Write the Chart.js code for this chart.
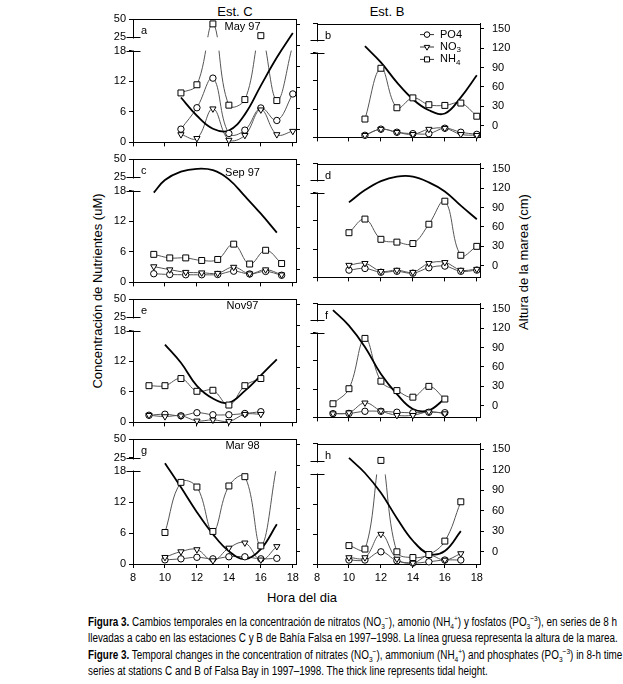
<!DOCTYPE html>
<html>
<head>
<meta charset="utf-8">
<script src="https://cdn.jsdelivr.net/npm/chart.js@4.4.1/dist/chart.umd.min.js"></script>
<style>
  body { margin: 0; background: #fff; width: 623px; height: 684px; position: relative; overflow: hidden;
         font-family: "Liberation Sans", Arial, sans-serif; color: #000; }
  .panel { position: absolute; }
  .txt { position: absolute; white-space: nowrap; transform: translate(-50%, -50%); font-size: 13px; }
  .rot { transform: translate(-50%, -50%) rotate(-90deg); }
  .cap { position: absolute; left: 88px; white-space: nowrap; font: 12px "Liberation Sans Narrow", "Liberation Sans", Arial, sans-serif;
         transform-origin: 0 50%; line-height: 16px; }
  .cap sub, .cap sup { font-size: 8px; line-height: 0; }
</style>
</head>
<body>
<div class="txt" style="left:235px;top:11px">Est. C</div>
<div class="txt" style="left:387px;top:11px">Est. B</div>
<div class="txt rot" style="left:97px;top:291px">Concentración de Nutrientes (uM)</div>
<div class="txt rot" style="left:523px;top:262px">Altura de la marea (cm)</div>
<div class="txt" style="left:302px;top:597px">Hora del dia</div>

<div class="cap" style="top:614px"><b>Figura 3.</b> Cambios temporales en la concentración de nitratos (NO<sub>3</sub><sup>−</sup>), amonio (NH<sub>4</sub><sup>+</sup>) y fosfatos (PO<sub>3</sub><sup>−3</sup>), en series de 8 h</div>
<div class="cap" style="top:630px">llevadas a cabo en las estaciones C y B de Bahía Falsa en 1997–1998. La línea gruesa representa la altura de la marea.</div>
<div class="cap" style="top:647px"><b>Figure 3.</b> Temporal changes in the concentration of nitrates (NO<sub>3</sub><sup>−</sup>), ammonium (NH<sub>4</sub><sup>+</sup>) and phosphates (PO<sub>3</sub><sup>−3</sup>) in 8-h time</div>
<div class="cap" style="top:663px">series at stations C and B of Falsa Bay in 1997–1998. The thick line represents tidal height.</div>

<script>
// ejes
const X_TICKS = [8, 10, 12, 14, 16, 18];
const LEFT_TICKS = [0, 6, 12, 18, 25, 50];
const TIDE_TICKS = [0, 30, 60, 90, 120, 150];

// May 97 - Est. C
const hoursA = [11, 12, 13, 14, 15, 16, 17, 18];
const po4A = [2.6, 6.8, 12.6, 1.75, 2.4, 6.75, 4.3, 9.5];
const no3A = [1.55, 0.8, 6.6, 0.45, 1.4, 6.4, 1.55, 2.2];
const nh4A = [9.7, 11.3, 43.3, 7.3, 8.4, 27.2, 8.2, 21];
const tideHoursA = [11, 12, 13, 14, 15, 16, 17, 18];
const tideA = [46, 20, 1.5, -1, 22, 63, 103, 138];

// May 97 - Est. B
const hoursB = [11, 12, 13, 14, 15, 16, 17, 18];
const po4B = [0.45, 1.75, 1.1, 0.8, 0.8, 1.95, 1.1, 0.65];
const no3B = [0.45, 1.75, 1.1, 0.65, 1.75, 1.95, 0.65, 0.45];
const nh4B = [3.9, 14.7, 6.3, 8.4, 6.95, 6.8, 7.3, 4.5];
const tideHoursB = [11, 12, 13, 14, 15, 16, 17, 18];
const tideB = [123, 98, 67, 41, 24, 19, 44, 78];

// Sep 97 - Est. C
const hoursC = [9.3, 10.3, 11.3, 12.3, 13.3, 14.3, 15.3, 16.3, 17.3];
const po4C = [1.7, 1.55, 1.5, 1.5, 1.55, 2.2, 1.65, 2.15, 1.4];
const no3C = [3.1, 2.5, 2.0, 1.9, 1.8, 3.0, 1.7, 2.5, 1.5];
const nh4C = [5.5, 4.8, 4.8, 4.3, 4.5, 7.5, 3.6, 6.3, 3.7];
const tideHoursC = [9.3, 10, 11, 12, 13, 14, 15, 16, 17];
const tideC = [110, 128, 140, 144, 142, 129, 105, 80, 53];

// Sep 97 - Est. B
const hoursD = [10, 11, 12, 13, 14, 15, 16, 17, 18];
const po4D = [1.55, 1.9, 1.1, 1.3, 0.9, 2.05, 2.4, 1.3, 1.55];
const no3D = [2.6, 3.0, 1.3, 1.55, 1.1, 3.0, 3.2, 1.55, 1.75];
const nh4D = [9.5, 12.4, 8.1, 7.5, 7.2, 11.3, 16.2, 4.7, 6.6];
const tideHoursD = [10, 11, 12, 13, 14, 15, 16, 17, 18];
const tideD = [98, 117, 131, 138, 138, 129, 115, 93, 72];

// Nov97 - Est. C
const hoursE = [9, 10, 11, 12, 13, 14, 15, 16];
const po4E = [1.4, 1.6, 1.3, 1.9, 1.5, 1.5, 1.75, 2.1];
const no3E = [1.4, 1.15, 1.3, 0.3, 0.5, 0.2, 1.6, 1.6];
const nh4E = [7.2, 7.2, 8.6, 6.1, 6.3, 3.4, 7.2, 8.6];
const tideHoursE = [10, 11, 12, 13, 14, 15, 16, 17];
const tideE = [93, 67, 34, 16, 10, 27, 49, 72];

// Nov97 - Est. B
const hoursF = [9, 10, 11, 12, 13, 14, 15, 16];
const po4F = [0.8, 0.85, 1.3, 1.3, 1.1, 1.0, 1.1, 1.0];
const no3F = [0.8, 1.0, 3.1, 1.4, 0.45, 0.45, 1.2, 0.8];
const nh4F = [2.9, 6.1, 16.8, 7.7, 5.7, 4.3, 6.6, 3.9];
const tideHoursF = [9, 10, 11, 12, 13, 14, 15, 16];
const tideF = [148, 124, 91, 49, 18, -5, -7, 11];

// Mar 98 - Est. C
const hoursG = [10, 11, 12, 13, 14, 15, 16, 17];
const po4G = [0.8, 1.0, 1.3, 1.0, 1.4, 1.4, 1.0, 1.1];
const no3G = [1.3, 2.4, 2.8, 0.65, 3.1, 4.1, 0.8, 3.4];
const nh4G = [6.1, 15.8, 14.9, 6.3, 15.1, 16.9, 3.5, 21];
const tideHoursG = [10, 11, 12, 13, 14, 15, 16, 17];
const tideG = [124, 90, 55, 24, 0, -11, 3, 38];

// Mar 98 - Est. B
const hoursH = [10, 11, 12, 13, 14, 15, 16, 17];
const po4H = [0.8, 0.8, 2.45, 0.65, 0.2, 0.45, 0.8, 0.8];
const no3H = [1.3, 1.3, 6.0, 1.0, 0.2, 1.75, 0.8, 2.1];
const nh4H = [3.7, 3.0, 26.4, 2.45, 1.3, 1.9, 4.6, 12.5];
const tideHoursH = [10, 11, 12, 13, 14, 15, 16, 17];
const tideH = [137, 115, 86, 49, 16, -3, 1, 30];

const panels = [
  { letter: 'a', month: 'May 97', monthDy: 8, legend: false, hours: hoursA, po4: po4A, no3: no3A, nh4: nh4A, tideHours: tideHoursA, tide: tideA },
  { letter: 'b', month: '', legend: true, hours: hoursB, po4: po4B, no3: no3B, nh4: nh4B, tideHours: tideHoursB, tide: tideB },
  { letter: 'c', month: 'Sep 97', monthDy: 14, hours: hoursC, po4: po4C, no3: no3C, nh4: nh4C, tideHours: tideHoursC, tide: tideC },
  { letter: 'd', month: '', hours: hoursD, po4: po4D, no3: no3D, nh4: nh4D, tideHours: tideHoursD, tide: tideD },
  { letter: 'e', month: 'Nov97', monthDy: 7, hours: hoursE, po4: po4E, no3: no3E, nh4: nh4E, tideHours: tideHoursE, tide: tideE },
  { letter: 'f', month: '', hours: hoursF, po4: po4F, no3: no3F, nh4: nh4F, tideHours: tideHoursF, tide: tideF },
  { letter: 'g', month: 'Mar 98', monthDy: 6.5, hours: hoursG, po4: po4G, no3: no3G, nh4: nh4G, tideHours: tideHoursG, tide: tideG },
  { letter: 'h', month: '', hours: hoursH, po4: po4H, no3: no3H, nh4: nh4H, tideHours: tideHoursH, tide: tideH }
];

// eje izquierdo cortado entre 18 y 25
function toFrac(v) {
  if (v <= 18) return v / 18 * 0.744;
  if (v <= 25) return 0.744 + (v - 18) / 7 * 0.108;
  return 0.852 + (v - 25) / 25 * 0.148;
}
function fromFrac(f) {
  if (f <= 0.744) return f / 0.744 * 18;
  if (f <= 0.852) return 18 + (f - 0.744) / 0.108 * 7;
  return 25 + (f - 0.852) / 0.148 * 25;
}

class BrokenScale extends Chart.LinearScale {
  determineDataLimits() { this.min = 0; this.max = 50; }
  buildTicks() { return LEFT_TICKS.map(v => ({ value: v })); }
  getPixelForValue(value) { return this.getPixelForDecimal(toFrac(value)); }
  getValueForPixel(pixel) { return fromFrac(this.getDecimalForPixel(pixel)); }
}
BrokenScale.id = 'broken';
BrokenScale.defaults = {};
Chart.register(BrokenScale);

Chart.defaults.font.family = '"Liberation Sans", Arial, sans-serif';
Chart.defaults.font.size = 11;
Chart.defaults.color = '#000';

const inBand = v => v > 18 && v < 25;

const MARKERS = [
  { key: 'nh4', style: 'rect', r: 4.2, rot: 0 },
  { key: 'no3', style: 'triangle', r: 3.6, rot: 180 },
  { key: 'po4', style: 'circle', r: 3.2, rot: 0 }
];

const decor = {
  id: 'decor',
  beforeDatasetDraw(chart, args) {
    if (chart.data.datasets[args.index].kind !== 'tide') return;
    const { ctx, chartArea: a, scales: { y } } = chart;
    const t = y.getPixelForValue(25), b = y.getPixelForValue(18);
    ctx.save();
    ctx.fillStyle = '#fff';
    ctx.fillRect(a.left + 1, t, a.right - a.left - 2, b - t);
    ctx.restore();
  },
  afterDraw(chart, args, opts) {
    const { ctx, chartArea: a, scales: { y } } = chart;
    const t = Math.round(y.getPixelForValue(25)) + 0.5;
    const b = Math.round(y.getPixelForValue(18)) + 0.5;
    const L = Math.round(a.left) + 0.5;
    ctx.save();
    ctx.strokeStyle = '#000';
    ctx.lineWidth = 1;
    ctx.beginPath();
    ctx.moveTo(L, Math.round(a.top) + 0.5);
    ctx.lineTo(Math.round(a.right) + 0.5, Math.round(a.top) + 0.5);
    ctx.stroke();
    // hueco del eje
    ctx.fillStyle = '#fff';
    ctx.fillRect(L - 2, t + 1, 4, b - t - 2);
    [t, b].forEach(yy => {
      ctx.beginPath();
      ctx.moveTo(L - 7, yy);
      ctx.lineTo(L + 7, yy);
      ctx.stroke();
    });
    ctx.fillStyle = '#000';
    ctx.font = '11px "Liberation Sans", Arial, sans-serif';
    ctx.textBaseline = 'middle';
    ctx.fillText(opts.letter, a.left + 8, a.top + 12);
    if (opts.month) {
      ctx.textAlign = 'center';
      ctx.fillText(opts.month, a.left + 109.5, a.top + opts.monthDy);
      ctx.textAlign = 'left';
    }
    if (opts.legend) {
      const items = [
        { name: 'PO4', sub: '', style: 'circle', r: 2.8, rot: 0 },
        { name: 'NO', sub: '3', style: 'triangle', r: 3.2, rot: 180 },
        { name: 'NH', sub: '4', style: 'rect', r: 3.6, rot: 0 }
      ];
      items.forEach((it, i) => {
        const yy = a.top + 11 + 12.4 * i;
        ctx.strokeStyle = '#333';
        ctx.beginPath();
        ctx.moveTo(a.left + 103, yy);
        ctx.lineTo(a.left + 117, yy);
        ctx.stroke();
        ctx.strokeStyle = '#000';
        ctx.fillStyle = '#fff';
        Chart.helpers.drawPoint(ctx, { pointStyle: it.style, radius: it.r, rotation: it.rot, borderWidth: 1 }, a.left + 110, yy);
        ctx.fillStyle = '#000';
        ctx.font = '11px "Liberation Sans", Arial, sans-serif';
        ctx.fillText(it.name, a.left + 123, yy);
        if (it.sub) {
          const w = ctx.measureText(it.name).width;
          ctx.font = '8px "Liberation Sans", Arial, sans-serif';
          ctx.fillText(it.sub, a.left + 123 + w, yy + 3);
        }
      });
    }
    ctx.restore();
  }
};

const AREA_LEFT = [133, 317];
const LEFT_W = [33, 17];
const RIGHT_W = [8, 42];
const AREA_W = 163, AREA_H = 125, PAD_TOP = 10;

panels.forEach((p, idx) => {
  const col = idx % 2, row = Math.floor(idx / 2);
  const last = row === 3;
  const bottomH = last ? 28 : 8;
  const div = document.createElement('div');
  div.className = 'panel';
  div.style.left = (AREA_LEFT[col] - LEFT_W[col]) + 'px';
  div.style.top = (19 + 140 * row - PAD_TOP) + 'px';
  div.style.width = (LEFT_W[col] + AREA_W + RIGHT_W[col]) + 'px';
  div.style.height = (PAD_TOP + AREA_H + bottomH) + 'px';
  const canvas = document.createElement('canvas');
  div.appendChild(canvas);
  document.body.appendChild(div);

  const pts = (xs, ys) => xs.map((x, i) => ({ x: x, y: ys[i] }));
  const datasets = [];
  MARKERS.forEach(m => {
    datasets.push({ data: pts(p.hours, p[m.key]), yAxisID: 'y', borderColor: '#555', borderWidth: 1,
                    pointRadius: 0, tension: 0.4, order: 3 });
  });
  datasets.push({ kind: 'tide', data: pts(p.tideHours, p.tide), yAxisID: 'y2', borderColor: '#000',
                  borderWidth: 1.8, pointRadius: 0, tension: 0.4, order: 2 });
  MARKERS.forEach(m => {
    datasets.push({ data: pts(p.hours, p[m.key]), yAxisID: 'y', showLine: false, order: 1,
                    pointStyle: m.style, pointRotation: m.rot,
                    pointRadius: c => (c.raw && inBand(c.raw.y)) ? 0 : m.r,
                    pointBackgroundColor: '#fff', pointBorderColor: '#000', pointBorderWidth: 1 });
  });

  const tickGrid = { display: true, drawOnChartArea: false, drawTicks: true, tickLength: 4, color: '#000' };
  const border = { display: true, color: '#000', width: 1 };

  new Chart(canvas, {
    type: 'line',
    data: { datasets: datasets },
    options: {
      responsive: true,
      maintainAspectRatio: false,
      animation: false,
      events: [],
      layout: { padding: { top: PAD_TOP, left: 0, right: 0, bottom: 0 } },
      plugins: {
        legend: { display: false },
        tooltip: { enabled: false },
        decor: { letter: p.letter, month: p.month, monthDy: p.monthDy, legend: p.legend }
      },
      scales: {
        x: {
          type: 'linear', min: 8, max: 18.2,
          afterBuildTicks: s => { s.ticks = X_TICKS.map(v => ({ value: v })); },
          afterFit: s => { s.height = bottomH; },
          grid: tickGrid, border: border,
          ticks: { display: last, padding: 3, maxRotation: 0, font: { size: 11 } }
        },
        y: {
          type: 'broken', position: 'left',
          afterFit: s => { s.width = LEFT_W[col]; },
          grid: tickGrid, border: border,
          ticks: { display: col === 0, padding: 3, callback: v => v, font: { size: 11 } }
        },
        y2: {
          type: 'linear', position: 'right', min: -18, max: 158,
          afterBuildTicks: s => { s.ticks = TIDE_TICKS.map(v => ({ value: v })); },
          afterFit: s => { s.width = RIGHT_W[col]; },
          grid: tickGrid, border: border,
          ticks: { display: col === 1, padding: 8, callback: v => v, font: { size: 11 } }
        }
      }
    },
    plugins: [decor]
  });
});

// ajustar el ancho del pie de figura
const caps = document.querySelectorAll('.cap');
const k = 529 / caps[0].getBoundingClientRect().width;
caps.forEach(c => { c.style.transform = 'scaleX(' + k + ')'; });
</script>
</body>
</html>
